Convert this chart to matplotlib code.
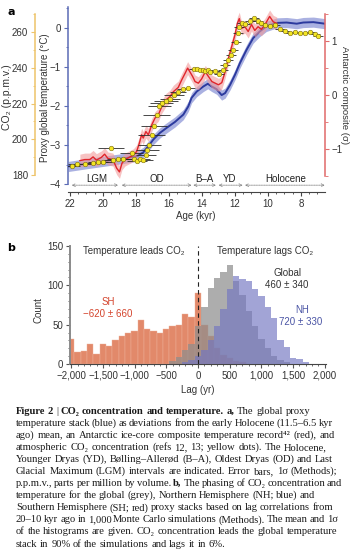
import numpy as np
import matplotlib
matplotlib.use("Agg")
import matplotlib.pyplot as plt
from matplotlib.ticker import MultipleLocator, FuncFormatter

SANS = ["Liberation Sans", "DejaVu Sans"]
SERIF = ["Liberation Serif", "DejaVu Serif"]
plt.rcParams["font.family"] = SANS
plt.rcParams["font.size"] = 7
plt.rcParams["axes.unicode_minus"] = True

# ---- panel a: global proxy temperature stack (deg C) ----
temp_age = [22.1, 21.0, 20.0, 19.0, 17.96, 17.56, 17.25, 16.95, 16.55, 16.14,
            15.64, 15.13, 14.83, 14.63, 14.32, 13.92, 13.65, 13.41, 13.11, 12.81,
            12.6, 12.3, 12.0, 11.7, 11.3, 10.9, 10.5, 10.1, 9.47, 8.87,
            8.26, 7.86, 7.25, 6.55]
temp_val = [-3.55, -3.48, -3.42, -3.36, -3.29, -3.19, -3.03, -2.86, -2.69, -2.56,
            -2.41, -2.22, -2.01, -1.79, -1.63, -1.50, -1.43, -1.50, -1.57, -1.72,
            -1.67, -1.46, -1.20, -0.90, -0.56, -0.26, -0.09, 0.04, 0.13, 0.14,
            0.11, 0.14, 0.15, 0.11]

# Antarctic composite (sigma)
ant_age = [21.4, 21.1, 20.8, 20.6, 20.4, 20.1, 19.9, 19.7, 19.4, 19.17,
           19.0, 18.85, 18.67, 18.36, 18.16, 17.96, 17.8, 17.66, 17.56, 17.4,
           17.25, 17.05, 16.85, 16.65, 16.44, 16.18, 15.94, 15.74, 15.44, 15.23,
           15.03, 14.87, 14.73, 14.56, 14.42, 14.22, 14.02, 13.8, 13.6, 13.4,
           13.2, 13.0, 12.8, 12.6, 12.4, 12.2, 12.0, 11.86, 11.74, 11.6,
           11.4, 11.2, 11.0, 10.8, 10.6, 10.4, 10.2, 9.9, 9.68, 9.47]
ant_val = [-1.22, -1.20, -1.20, -1.15, -1.21, -1.16, -1.10, -1.18, -1.20, -1.36,
           -1.43, -1.27, -1.20, -1.15, -1.12, -1.05, -0.90, -0.74, -0.80, -0.68,
           -0.74, -0.56, -0.43, -0.37, -0.22, -0.09, -0.03, 0.06, 0.14, 0.28,
           0.40, 0.50, 0.43, 0.34, 0.25, 0.22, 0.30, 0.43, 0.34, 0.25,
           0.22, 0.19, 0.23, 0.43, 0.68, 0.90, 1.12, 1.33, 1.42, 1.24,
           1.27, 1.18, 1.31, 1.20, 1.27, 1.22, 1.30, 1.46, 1.36, 1.33]

# atmospheric CO2 (ppmv) with age error (kyr)
co2_age = [21.9, 21.6, 21.1, 20.6, 20.3, 20.0, 19.53, 19.4, 19.07, 18.77,
           18.26, 18.1, 17.96, 17.76, 17.56, 17.4, 17.32, 17.19, 17.05, 16.9,
           16.75, 16.59, 16.44, 16.18, 15.94, 15.7, 15.44, 15.13, 14.83, 14.5,
           14.3, 14.12, 13.95, 13.8, 13.65, 13.5, 13.2, 12.95, 12.75, 12.6,
           12.4, 12.26, 12.1, 11.94, 11.84, 11.74, 11.6, 11.4, 11.1, 10.85,
           10.6, 10.4, 10.2, 9.9, 9.6, 9.27, 8.97, 8.67, 8.36, 8.06,
           7.76, 7.45, 7.15, 6.95]
co2_val = [185.2, 186.0, 186.4, 186.8, 187.2, 187.5, 195.3, 188.3, 188.9, 188.7,
           192.1, 188.7, 188.0, 188.7, 188.3, 191.2, 194.0, 196.8, 202.4, 207.4,
           213.6, 218.6, 220.4, 221.5, 222.3, 224.8, 226.6, 228.0, 228.5, 239.1,
           239.3, 238.6, 238.8, 238.3, 238.5, 237.8, 238.3, 236.5, 238.6, 241.5,
           244.3, 247.1, 249.9, 254.6, 259.2, 262.9, 264.8, 264.4, 266.3, 267.6,
           266.3, 264.8, 263.9, 263.3, 263.9, 261.5, 260.8, 259.6, 260.2, 259.2,
           259.6, 260.2, 258.9, 257.8]
co2_err = [0.5, 0.5, 0.6, 0.6, 0.6, 0.6, 0.8, 0.6, 0.7, 0.7,
           0.7, 0.6, 0.6, 0.6, 0.6, 0.6, 0.7, 0.7, 0.8, 0.8,
           0.8, 0.7, 0.7, 0.7, 0.6, 0.6, 0.5, 0.4, 0.4, 0.3,
           0.3, 0.3, 0.3, 0.3, 0.3, 0.3, 0.3, 0.3, 0.3, 0.3,
           0.3, 0.3, 0.3, 0.3, 0.3, 0.3, 0.3, 0.3, 0.3, 0.3,
           0.3, 0.3, 0.3, 0.3, 0.3, 0.3, 0.3, 0.3, 0.3, 0.3,
           0.3, 0.3, 0.3, 0.3]

periods = ["LGM", "OD", "B–A", "YD", "Holocene"]
period_start = [21.9, 18.87, 14.53, 13.0, 11.4]
period_end = [19.07, 14.62, 13.15, 11.53, 6.55]
period_mid = [20.4, 16.75, 13.85, 12.3, 8.9]

# ---- panel b: lag histograms (100-yr bins) ----
sh_lag = list(range(-2000, 800, 100))
sh_count = [32, 15, 17, 26, 13, 25, 23, 30, 36, 40, 42, 56, 45, 42, 39, 45, 48, 50,
            64, 60, 90, 50, 35, 20, 12, 8, 4, 2]
gl_lag = list(range(-400, 1500, 100))
gl_count = [4, 9, 18, 26, 48, 73, 97, 109, 117, 126, 105, 88, 68, 48, 32, 20, 10, 5, 2]
nh_lag = list(range(-200, 1800, 100))
nh_count = [2, 5, 10, 18, 30, 48, 70, 95, 112, 108, 106, 95, 86, 72, 59, 31, 21, 7, 6, 2]

W, H = 358, 555
fig = plt.figure(figsize=(W / 100, H / 100), dpi=100)


def box(x0, y0, x1, y1):
    # pixel box (top-left origin) -> figure fraction
    return [x0 / W, 1 - y1 / H, (x1 - x0) / W, (y1 - y0) / H]


def px(x, y):
    return x / W, 1 - y / H


c_blue = "#2c3a9e"
c_red = "#e0252b"
c_tan = "#eec46a"
c_txt = "#333333"

# ================= panel a =================
ax = fig.add_axes(box(68, 7, 325, 192))
ax.set_xlim(22.12, 6.545)
ax.set_ylim(-4.205, 0.538)
ax.patch.set_visible(False)

t_age = np.array(temp_age)
t_val = np.array(temp_val)
ax.fill_between(t_age, t_val - 0.13, t_val + 0.13, color="#8e97d8", alpha=0.75, lw=0)
ax.plot(t_age, t_val, color=c_blue, lw=1.4)

for name, a0, a1, am in zip(periods, period_start, period_end, period_mid):
    ax.annotate("", xy=(a1, -4.03), xytext=(a0, -4.03),
                arrowprops=dict(arrowstyle="<->", color="#8a8a8a", lw=0.6,
                                linestyle=(0, (1, 1)), shrinkA=0, shrinkB=0,
                                mutation_scale=5))
    ax.text(am, -3.86, name, ha="center", va="center", fontsize=7, color="#222")

for s in ["top", "right"]:
    ax.spines[s].set_visible(False)
ax.spines["left"].set_color("#5b6bb5")
ax.spines["left"].set_linewidth(1.1)
ax.spines["left"].set_bounds(-4, 0.55)
ax.spines["bottom"].set_color("#444")
ax.spines["bottom"].set_linewidth(0.8)
ax.yaxis.set_minor_locator(MultipleLocator(0.5))
ax.set_yticks([-4, -3, -2, -1, 0])
ax.tick_params(axis="y", which="both", colors="#5b6bb5", labelcolor=c_txt, labelsize=7)
ax.tick_params(axis="y", which="major", length=3, pad=2)
ax.tick_params(axis="y", which="minor", length=1.5)
ax.set_xticks([22, 20, 18, 16, 14, 12, 10, 8])
ax.xaxis.set_minor_locator(MultipleLocator(0.5))
ax.tick_params(axis="x", which="both", colors="#444", labelcolor=c_txt, labelsize=7)
ax.tick_params(axis="x", which="major", length=3, pad=2)
ax.tick_params(axis="x", which="minor", length=1.5)

# Antarctic composite
ax_r = ax.twinx()
ax_r.set_ylim(-1.803, 1.636)
a_age = np.array(ant_age)
a_val = np.array(ant_val)
ax_r.fill_between(a_age, a_val - 0.12, a_val + 0.12, color="#f29a9a", alpha=0.6, lw=0)
ax_r.plot(a_age, a_val, color=c_red, lw=1.0)
for s in ["top", "left", "bottom"]:
    ax_r.spines[s].set_visible(False)
ax_r.spines["right"].set_color("#e06a6a")
ax_r.spines["right"].set_linewidth(1.1)
ax_r.spines["right"].set_bounds(-1.5, 1.5)
ax_r.set_yticks([-1, 0, 1])
ax_r.yaxis.set_minor_locator(MultipleLocator(0.5))
ax_r.tick_params(axis="y", which="both", colors="#e06a6a", labelcolor=c_txt, labelsize=7)
ax_r.tick_params(axis="y", which="major", length=3, pad=1.5)
ax_r.tick_params(axis="y", which="minor", length=2)

# CO2
ax_c = ax.twinx()
ax_c.set_ylim(170.5, 274)
ax_c.errorbar(co2_age, co2_val, xerr=co2_err, fmt="o", ms=3.3, mfc="#f3e524",
              mec="#7a6a10", mew=0.4, ecolor="#2a2a2a", elinewidth=0.6, capsize=0)
for s in ["top", "right", "bottom"]:
    ax_c.spines[s].set_visible(False)
ax_c.spines["left"].set_visible(True)
ax_c.spines["left"].set_position(("axes", -33 / 257))
ax_c.spines["left"].set_color(c_tan)
ax_c.spines["left"].set_linewidth(1.1)
ax_c.spines["left"].set_bounds(180, 270)
ax_c.yaxis.set_ticks_position("left")
ax_c.set_yticks([180, 200, 220, 240, 260])
ax_c.yaxis.set_minor_locator(MultipleLocator(10))
ax_c.tick_params(axis="y", which="both", colors=c_tan, labelcolor=c_txt, labelsize=7)
ax_c.tick_params(axis="y", which="major", length=3, pad=2)
ax_c.tick_params(axis="y", which="minor", length=1.5)

fig.text(*px(11, 12), "a", weight="bold", fontsize=8, ha="center", va="center", family=["DejaVu Sans"])
fig.text(*px(6.5, 97), "CO₂ (p.p.m.v.)", rotation=90, ha="center", va="center", fontsize=7.5, color=c_txt)
fig.text(*px(44.5, 98), "Proxy global temperature (°C)", rotation=90, ha="center", va="center",
         fontsize=7, color=c_txt)
fig.text(*px(344, 95), "Antarctic composite (σ)", rotation=270, ha="center", va="center",
         fontsize=6.8, color=c_txt)
fig.text(*px(196, 216), "Age (kyr)", ha="center", va="center", fontsize=7, color=c_txt)

# ================= panel b =================
bx = fig.add_axes(box(70, 246, 326, 364))
bx.set_xlim(-2020, 2020)
bx.set_ylim(0, 150)
bx.bar(sh_lag, sh_count, width=100, color="#e2896a", edgecolor="#eeb39c", lw=0.3, zorder=1)
bx.bar(gl_lag, gl_count, width=100, color="#8e8e8e", alpha=0.72, lw=0, zorder=2)
bx.bar(nh_lag, nh_count, width=100, color="#7276c2", alpha=0.66, lw=0, zorder=3)
bx.axvline(0, color="#222", lw=0.8, ls=(0, (4, 3)), zorder=4)

bx.text(-1815, 144, "Temperature leads CO₂", ha="left", va="center", fontsize=7, color=c_txt)
bx.text(300, 144, "Temperature lags CO₂", ha="left", va="center", fontsize=7, color=c_txt)
bx.text(-1420, 79, "SH", ha="center", va="center", fontsize=7, color="#d4452e")
bx.text(-1420, 64, "−620 ± 660", ha="center", va="center", fontsize=7, color="#d4452e")
bx.text(1420, 116, "Global", ha="center", va="center", fontsize=7, color="#333")
bx.text(1404, 101, "460 ± 340", ha="center", va="center", fontsize=7, color="#333")
bx.text(1641, 69, "NH", ha="center", va="center", fontsize=7, color="#4b55a5")
bx.text(1625, 53, "720 ± 330", ha="center", va="center", fontsize=7, color="#4b55a5")

for s in ["top", "right"]:
    bx.spines[s].set_visible(False)
bx.spines["left"].set_color("#8a8a8a")
bx.spines["left"].set_linewidth(1.4)
bx.spines["bottom"].set_color("#444")
bx.spines["bottom"].set_linewidth(0.8)
bx.set_yticks([0, 50, 100, 150])
bx.yaxis.set_minor_locator(MultipleLocator(10))
bx.set_xticks(range(-2000, 2001, 500))
bx.xaxis.set_minor_locator(MultipleLocator(100))
bx.xaxis.set_major_formatter(FuncFormatter(lambda v, p: f"{int(v):,}".replace("-", "−")))
bx.tick_params(which="both", colors="#555", labelcolor=c_txt, labelsize=7)
bx.tick_params(which="major", length=3, pad=2)
bx.tick_params(which="minor", length=1.5)

fig.text(*px(11, 248), "b", weight="bold", fontsize=8, ha="center", va="center", family=["DejaVu Sans"])
fig.text(*px(39, 310), "Count", rotation=90, ha="center", va="center", fontsize=7, color=c_txt)
fig.text(*px(198, 390), "Lag (yr)", ha="center", va="center", fontsize=7, color=c_txt)

# ================= caption (justified like the journal) =================
caption = [
    [("Figure 2", True), ("|", False), ("CO₂ concentration and temperature.", True), ("a,", True),
     ("The global proxy", False)],
    [("temperature stack (blue) as deviations from the early Holocene (11.5–6.5 kyr", False)],
    [("ago) mean, an Antarctic ice-core composite temperature record⁴² (red), and", False)],
    [("atmospheric CO₂ concentration (refs 12, 13; yellow dots). The Holocene,", False)],
    [("Younger Dryas (YD), Bølling–Allerød (B–A), Oldest Dryas (OD) and Last", False)],
    [("Glacial Maximum (LGM) intervals are indicated. Error bars, 1σ (Methods);", False)],
    [("p.p.m.v., parts per million by volume.", False), ("b,", True),
     ("The phasing of CO₂ concentration and", False)],
    [("temperature for the global (grey), Northern Hemisphere (NH; blue) and", False)],
    [("Southern Hemisphere (SH; red) proxy stacks based on lag correlations from", False)],
    [("20–10 kyr ago in 1,000 Monte Carlo simulations (Methods). The mean and 1σ", False)],
    [("of the histograms are given. CO₂ concentration leads the global temperature", False)],
    [("stack in 90% of the simulations and lags it in 6%.", False)],
]
line_end = [310, 333, 335, 327, 333, 337, 342, 315, 333, 338, 337, None]

renderer = fig.canvas.get_renderer()
cap_fs = 7.6
probe1 = fig.text(0, 0, "x x", fontsize=cap_fs, family=SERIF)
probe2 = fig.text(0, 0, "xx", fontsize=cap_fs, family=SERIF)
space = probe1.get_window_extent(renderer).width - probe2.get_window_extent(renderer).width
probe1.remove()
probe2.remove()

y0 = 413.5
for i, line in enumerate(caption):
    words = [(w, bold) for seg, bold in line for w in seg.split(" ")]
    y = y0 + i * 12.1
    items = []
    for w, bold in words:
        t = fig.text(*px(0, y), w, fontsize=cap_fs, family=SERIF,
                     weight="bold" if bold else "normal", ha="left", va="baseline", color="#1a1a1a")
        items.append((t, t.get_window_extent(renderer).width))
    total = sum(wd for _, wd in items)
    if line_end[i] is None or len(items) < 2:
        gap = space
    else:
        gap = max((line_end[i] - 16 - total) / (len(items) - 1), space * 0.6)
    x = 16.0
    for t, wd in items:
        t.set_position(px(x, y))
        x += wd + gap

fig.savefig("out.png", dpi=100)
